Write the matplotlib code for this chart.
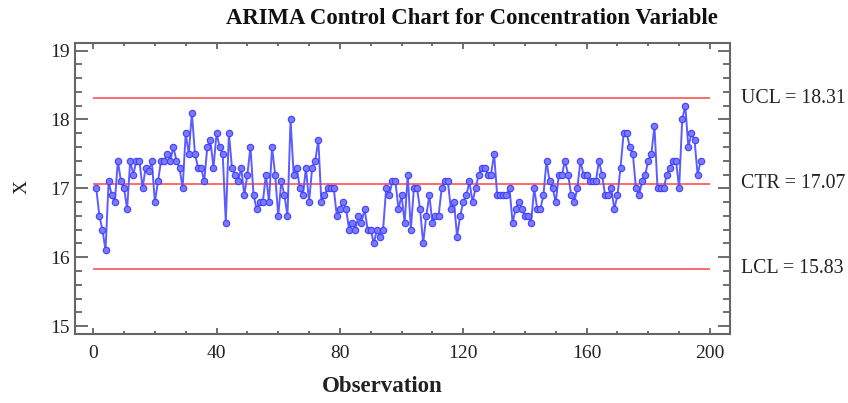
import matplotlib
matplotlib.use("Agg")
import matplotlib.pyplot as plt
from matplotlib.ticker import MultipleLocator

# ARIMA residual-based control chart data
concentration = [
    17.0, 16.6, 16.4, 16.1, 17.1, 16.9, 16.8, 17.4, 17.1, 17.0,
    16.7, 17.4, 17.2, 17.4, 17.4, 17.0, 17.3, 17.25, 17.4, 16.8,
    17.1, 17.4, 17.4, 17.5, 17.4, 17.6, 17.4, 17.3, 17.0, 17.8,
    17.5, 18.1, 17.5, 17.3, 17.3, 17.1, 17.6, 17.7, 17.3, 17.8,
    17.6, 17.5, 16.5, 17.8, 17.3, 17.2, 17.1, 17.3, 16.9, 17.2,
    17.6, 16.9, 16.7, 16.8, 16.8, 17.2, 16.8, 17.6, 17.2, 16.6,
    17.1, 16.9, 16.6, 18.0, 17.2, 17.3, 17.0, 16.9, 17.3, 16.8,
    17.3, 17.4, 17.7, 16.8, 16.9, 17.0, 17.0, 17.0, 16.6, 16.7,
    16.8, 16.7, 16.4, 16.5, 16.4, 16.6, 16.5, 16.7, 16.4, 16.4,
    16.2, 16.4, 16.3, 16.4, 17.0, 16.9, 17.1, 17.1, 16.7, 16.9,
    16.5, 17.2, 16.4, 17.0, 17.0, 16.7, 16.2, 16.6, 16.9, 16.5,
    16.6, 16.6, 17.0, 17.1, 17.1, 16.7, 16.8, 16.3, 16.6, 16.8,
    16.9, 17.1, 16.8, 17.0, 17.2, 17.3, 17.3, 17.2, 17.2, 17.5,
    16.9, 16.9, 16.9, 16.9, 17.0, 16.5, 16.7, 16.8, 16.7, 16.6,
    16.6, 16.5, 17.0, 16.7, 16.7, 16.9, 17.4, 17.1, 17.0, 16.8,
    17.2, 17.2, 17.4, 17.2, 16.9, 16.8, 17.0, 17.4, 17.2, 17.2,
    17.1, 17.1, 17.1, 17.4, 17.2, 16.9, 16.9, 17.0, 16.7, 16.9,
    17.3, 17.8, 17.8, 17.6, 17.5, 17.0, 16.9, 17.1, 17.2, 17.4,
    17.5, 17.9, 17.0, 17.0, 17.0, 17.2, 17.3, 17.4, 17.4, 17.0,
    18.0, 18.2, 17.6, 17.8, 17.7, 17.2, 17.4,
]
observations = list(range(1, len(concentration) + 1))

limit_names = ["UCL", "CTR", "LCL"]
limit_values = [18.31, 17.07, 15.83]

x_ticks = [0, 40, 80, 120, 160, 200]
y_ticks = [15, 16, 17, 18, 19]

plt.rcParams["font.family"] = ["Liberation Serif", "DejaVu Serif"]

fig = plt.figure(figsize=(8.48, 4.03), dpi=100)
ax = fig.add_axes([75 / 848, 1 - 334 / 403, (730 - 75) / 848, (334 - 42.7) / 403])

for val in limit_values:
    ax.hlines(val, 0, 200, color="#ff6b6b", lw=1.4, zorder=1)

ax.plot(observations, concentration, color="#5c5cff", lw=1.4,
        marker="o", markersize=4.6, markerfacecolor="#7a7aff",
        markeredgecolor="#3f3fff", markeredgewidth=0.8, zorder=3)

ax.set_xlim(-5.9, 206.5)
ax.set_ylim(14.885, 19.115)
ax.set_xticks(x_ticks)
ax.set_yticks(y_ticks)
ax.xaxis.set_minor_locator(MultipleLocator(10))
ax.yaxis.set_minor_locator(MultipleLocator(0.2))

ax.tick_params(axis="both", which="both", direction="in", colors="#555555",
               labelcolor="#222222", top=True, right=True, labelsize=14)
ax.tick_params(axis="x", which="major", length=4.5, width=1.2, pad=8)
ax.tick_params(axis="x", which="minor", length=2.5, width=1.2)
ax.tick_params(axis="y", which="major", length=9, width=1.2, pad=4)
ax.tick_params(axis="y", which="minor", length=5, width=1.2)

for sp in ax.spines.values():
    sp.set_color("#666666")
    sp.set_linewidth(1.5)

for name, val in zip(limit_names, limit_values):
    ax.text(1.017, (val - 14.885) / (19.115 - 14.885), f"{name} = {val:.2f}",
            transform=ax.transAxes, ha="left", va="center", fontsize=14.3,
            color="#222222")

fig.text(472 / 848, 1 - 18 / 403, "ARIMA Control Chart for Concentration Variable",
         ha="center", va="center", fontsize=16.4, fontweight="bold", color="#111111")
fig.text(382 / 848, 1 - 387 / 403, "Observation", ha="center", va="center",
         fontsize=16.5, fontweight="bold", color="#222222")
fig.text(22 / 848, 1 - 187 / 403, "X", ha="center", va="center", rotation=90,
         fontsize=14, color="#222222")

fig.savefig("out.png", dpi=100)
